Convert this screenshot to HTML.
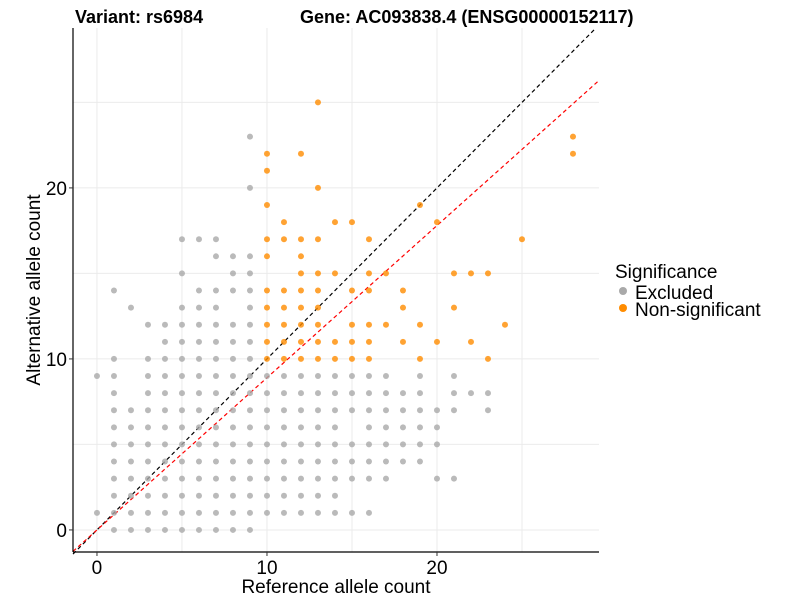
<!DOCTYPE html>
<html><head><meta charset="utf-8">
<style>
html,body{margin:0;padding:0;background:#fff;}
svg{display:block;font-family:"Liberation Sans",sans-serif;}
</style></head>
<body>
<svg id="chart" width="800" height="600" viewBox="0 0 800 600" xmlns="http://www.w3.org/2000/svg">
  <rect width="800" height="600" fill="#fff"/>
  <g id="grid"></g>
  <g id="lines"></g>
  <g id="points"></g>
  <line x1="73" y1="28" x2="73" y2="552" stroke="#000" stroke-width="1.2"/>
  <line x1="73" y1="552" x2="599" y2="552" stroke="#000" stroke-width="1.2"/>
  <g id="ticks"></g>
  <g font-size="19" text-anchor="middle" fill="#000">
    <text id="xl0" x="97" y="574">0</text>
    <text id="xl1" x="267" y="574">10</text>
    <text id="xl2" x="437" y="574">20</text>
  </g>
  <text x="75" y="23" font-size="18" font-weight="bold">Variant: rs6984</text>
  <text x="300" y="23" font-size="18" font-weight="bold">Gene: AC093838.4 (ENSG00000152117)</text>
  <text x="336" y="593" font-size="19" text-anchor="middle">Reference allele count</text>
  <text transform="translate(40,290) rotate(-90)" font-size="19" text-anchor="middle">Alternative allele count</text>
  <g>
    <text x="615" y="278" font-size="19">Significance</text>
    <circle cx="623" cy="291" r="4" fill="#a9a9a9"/>
    <text x="635" y="299" font-size="19">Excluded</text>
    <circle cx="623" cy="308" r="4" fill="#ff8c00"/>
    <text x="635" y="316" font-size="19">Non-significant</text>
  </g>
</svg>
<script>
// ---- data ----
const xTicks = [0, 10, 20];
const xTickLabels = ["0", "10", "20"];
const yTicks = [0, 10, 20];
const yTickLabels = ["0", "10", "20"];
const gridVals = [0, 5, 10, 15, 20, 25];
const redSlope = 0.89;
// grey (Excluded): each row = [altCount, [refCounts...]]
const greyRows = [
  [0, [1,2,3,4,5,6,7,8,9]],
  [1, [0,1,2,3,4,5,6,7,8,9,10,11,12,13,14,15,16]],
  [2, [1,2,3,4,5,6,7,8,9,10,11,12,13,14]],
  [3, [1,2,3,4,5,6,7,8,9,10,11,12,13,14,15,16,17,20,21]],
  [4, [1,2,3,4,5,6,7,8,9,10,11,12,13,14,15,16,17,18,19]],
  [5, [1,2,3,4,5,6,7,8,9,10,11,12,13,14,15,16,17,18,19,20]],
  [6, [1,2,3,4,5,6,7,8,9,10,11,12,13,14,16,17,18,19,20]],
  [7, [1,2,3,4,5,6,7,8,9,10,11,12,13,14,15,16,17,18,19,20,21,23]],
  [8, [1,3,4,5,6,7,8,9,10,11,12,13,14,15,16,17,18,19,21,22,23]],
  [9, [0,1,3,4,5,6,7,8,9,10,11,12,13,14,15,16,17,19,21]],
  [10, [1,3,4,5,6,7,8,9]],
  [11, [4,5,6,7,8,9]],
  [12, [3,4,5,6,7,8,9]],
  [13, [2,5,6,7,9]],
  [14, [1,6,7,8,9]],
  [15, [5,8,9]],
  [16, [7,8,9]],
  [17, [5,6,7]],
  [20, [9]],
  [23, [9]]
];
// orange (Non-significant)
const orangeRows = [
  [10, [10,11,12,13,14,15,16,19,23]],
  [11, [10,11,12,13,14,15,16,18,20,22]],
  [12, [10,11,12,13,15,16,17,19,24]],
  [13, [10,11,12,13,18,21]],
  [14, [10,11,12,13,15,16,18]],
  [15, [12,13,14,16,17,21,22,23]],
  [16, [10,12]],
  [17, [10,11,12,13,16,25]],
  [18, [11,14,15,20]],
  [19, [10,19]],
  [20, [13]],
  [21, [10]],
  [22, [10,12,28]],
  [23, [28]],
  [25, [13]]
];
// ---- scales ----
const X0 = -1.41, X1 = 29.53, Y0 = -1.29, Y1 = 29.35;
const PL = 73, PR = 599, PT = 28, PB = 552;
const sx = v => PL + (v - X0) / (X1 - X0) * (PR - PL);
const sy = v => PB - (v - Y0) / (Y1 - Y0) * (PB - PT);
const NS = 'http://www.w3.org/2000/svg';
function mk(tag, attrs, parent) {
  const e = document.createElementNS(NS, tag);
  for (const k in attrs) e.setAttribute(k, attrs[k]);
  parent.appendChild(e);
  return e;
}
const grid = document.getElementById('grid');
gridVals.forEach(v => {
  const h = mk('line', {x1: PL, x2: PR, y1: sy(v), y2: sy(v), stroke: '#ebebeb', 'stroke-width': 1}, grid);
  
  
  const vl = mk('line', {x1: sx(v), x2: sx(v), y1: PT, y2: PB, stroke: '#ebebeb', 'stroke-width': 1}, grid);
  
  
});
const pts = document.getElementById('points');
function drawRows(rows, color, name) {
  rows.forEach(r => {
    r[1].forEach(xv => {
      const c = mk('circle', {cx: sx(xv), cy: sy(r[0]), r: 3, fill: color, 'fill-opacity': 0.8}, pts);
      
      
    });
  });
}
drawRows(greyRows, '#a9a9a9', 'point-excluded');
drawRows(orangeRows, '#ff8c00', 'point-non-significant');
const lines = document.getElementById('lines');
const lb = mk('line', {x1: sx(X0), y1: sy(X0), x2: sx(Y1), y2: sy(Y1), stroke: '#000', 'stroke-width': 1.2, 'stroke-dasharray': '4,3'}, lines);


const lr = mk('line', {x1: sx(X0), y1: sy(X0 * redSlope), x2: sx(X1), y2: sy(X1 * redSlope), stroke: '#ff0000', 'stroke-width': 1.2, 'stroke-dasharray': '4,3'}, lines);


const ticks = document.getElementById('ticks');
xTicks.forEach((v, i) => {
  const t = mk('line', {x1: sx(v), x2: sx(v), y1: PB, y2: PB + 4, stroke: '#333'}, ticks);
  
  
  const l = document.getElementById('xl' + i);
  l.setAttribute('x', sx(v));
  l.textContent = xTickLabels[i];
});
yTicks.forEach((v, i) => {
  const t = mk('line', {x1: PL - 4, x2: PL, y1: sy(v), y2: sy(v), stroke: '#333'}, ticks);
  
  
  const l = mk('text', {x: 67, y: sy(v) + 7, 'font-size': 19, 'text-anchor': 'end', fill: '#000'}, ticks);
  l.textContent = yTickLabels[i];
  
  
});
</script>
</body></html>
